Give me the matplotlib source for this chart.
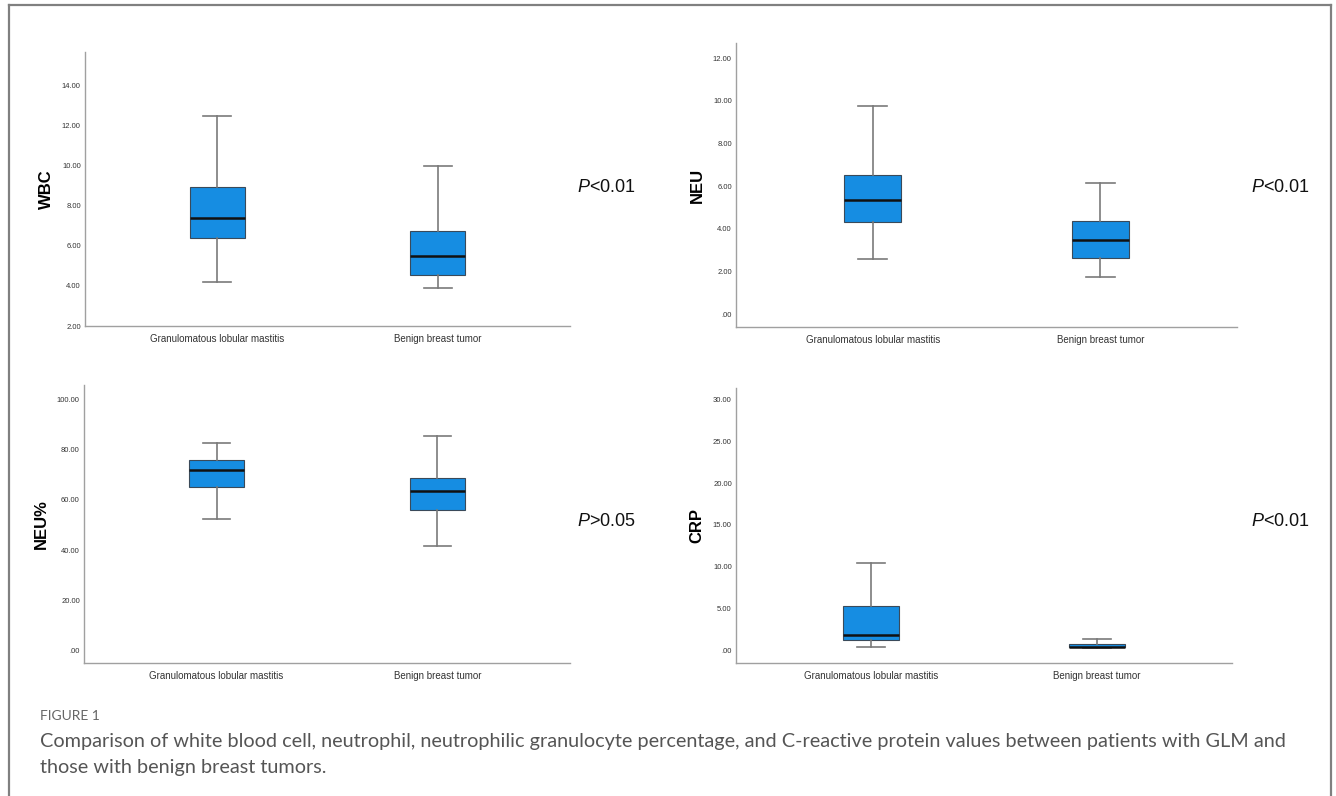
import matplotlib
matplotlib.use("Agg")
import matplotlib.pyplot as plt
from matplotlib.lines import Line2D

plt.rcParams['font.family'] = ['Liberation Sans', 'DejaVu Sans']
plt.rcParams['mathtext.fontset'] = 'custom'
plt.rcParams['mathtext.it'] = 'Liberation Sans:italic'
plt.rcParams['mathtext.rm'] = 'Liberation Sans'

groups = ["Granulomatous lobular mastitis", "Benign breast tumor"]

# five-number summaries per group: low whisker, Q1, median, Q3, high whisker
wbc_glm = [4.21, 6.39, 7.39, 8.95, 12.5]
wbc_benign = [3.91, 4.56, 5.52, 6.77, 9.99]
neu_glm = [2.58, 4.30, 5.35, 6.54, 9.78]
neu_benign = [1.74, 2.65, 3.47, 4.35, 6.15]
neup_glm = [52.5, 65.1, 71.8, 75.9, 82.5]
neup_benign = [41.8, 56.1, 63.4, 68.7, 85.5]
crp_glm = [0.40, 1.24, 1.87, 5.30, 10.47]
crp_benign = [0.30, 0.40, 0.45, 0.83, 1.36]

labels = ["WBC", "NEU", "NEU%", "CRP"]
p_texts = [r"$\mathit{P}$<0.01", r"$\mathit{P}$<0.01", r"$\mathit{P}$>0.05", r"$\mathit{P}$<0.01"]
yticks = [
    [2, 4, 6, 8, 10, 12, 14],
    [0, 2, 4, 6, 8, 10, 12],
    [0, 20, 40, 60, 80, 100],
    [0, 5, 10, 15, 20, 25, 30],
]
ylims = [(2.0, 15.7), (-0.61, 12.72), (-4.9, 105.7), (-1.47, 31.35)]
series = [
    (wbc_glm, wbc_benign),
    (neu_glm, neu_benign),
    (neup_glm, neup_benign),
    (crp_glm, crp_benign),
]

W, H = 1336, 796
fig = plt.figure(figsize=(W / 100, H / 100), dpi=100)

# axes boxes in pixels: left, right, top, bottom
boxes_px = [
    (85, 570, 52, 326),
    (736, 1237, 43, 327),
    (84, 570, 385, 663),
    (736, 1232, 388, 663),
]
p_pos = [(577, 187), (1251, 187), (577, 522), (1251, 522)]

blue = "#168de2"
grey = "#7a7a7a"


def fmt(v):
    s = "%.2f" % v
    return s[1:] if s.startswith("0") else s


for i, (l, r, t, b) in enumerate(boxes_px):
    ax = fig.add_axes([l / W, 1 - b / H, (r - l) / W, (b - t) / H])
    stats = []
    for name, vals in zip(groups, series[i]):
        lo, q1, med, q3, hi = vals
        stats.append({"label": name, "whislo": lo, "q1": q1, "med": med,
                      "q3": q3, "whishi": hi, "fliers": []})
    ax.bxp(stats, positions=[1, 2], widths=0.25, capwidths=0.125,
           patch_artist=True, showfliers=False,
           boxprops=dict(facecolor=blue, edgecolor="#3a4a5a", linewidth=0.8),
           medianprops=dict(color="#111111", linewidth=1.8),
           whiskerprops=dict(color=grey, linewidth=1.2),
           capprops=dict(color=grey, linewidth=1.2))
    ax.set_xlim(0.4, 2.6)
    ax.set_ylim(*ylims[i])
    ax.set_yticks(yticks[i])
    ax.set_yticklabels([fmt(v) for v in yticks[i]])
    ax.tick_params(axis="y", length=0, labelsize=5.5, pad=3, labelcolor="#333333")
    ax.tick_params(axis="x", length=0, labelsize=7, pad=6, labelcolor="#333333")
    for s in ["top", "right"]:
        ax.spines[s].set_visible(False)
    for s in ["left", "bottom"]:
        ax.spines[s].set_color("#a0a0a0")
        ax.spines[s].set_linewidth(1.0)
    ax.set_ylabel(labels[i], fontsize=12, fontweight="bold", labelpad=6)
    fig.text(p_pos[i][0] / W, 1 - p_pos[i][1] / H, p_texts[i],
             fontsize=13, va="center", ha="left", color="#111111")

# outer frame (open at the bottom)
frame_c = "#808080"
fig.add_artist(Line2D([9 / W, 9 / W], [0, 1 - 5 / H], color=frame_c, lw=1.6))
fig.add_artist(Line2D([9 / W, 1331 / W], [1 - 5 / H, 1 - 5 / H], color=frame_c, lw=1.6))
fig.add_artist(Line2D([1331 / W, 1331 / W], [0, 1 - 5 / H], color=frame_c, lw=1.6))

cap_font = ['Lato', 'DejaVu Sans']
fig.text(40 / W, 1 - 716 / H, "FIGURE 1", fontsize=10, color="#666666",
         va="center", ha="left", family=cap_font)
fig.text(40 / W, 1 - 742 / H,
         "Comparison of white blood cell, neutrophil, neutrophilic granulocyte percentage, "
         "and C-reactive protein values between patients with GLM and",
         fontsize=14.3, color="#555555", va="center", ha="left", family=cap_font)
fig.text(40 / W, 1 - 768 / H, "those with benign breast tumors.",
         fontsize=14.3, color="#555555", va="center", ha="left", family=cap_font)

fig.savefig("out.png", dpi=100, facecolor="white")
